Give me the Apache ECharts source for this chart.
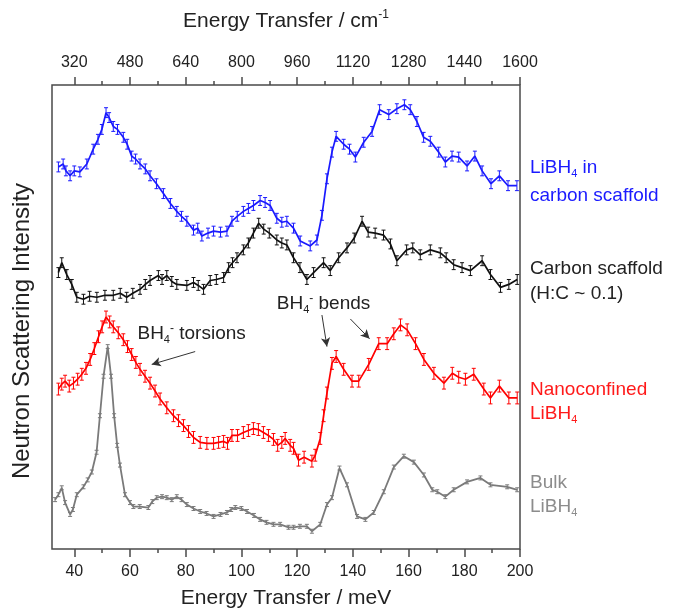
<!DOCTYPE html>
<html>
<head>
<meta charset="utf-8">
<script src="https://cdn.jsdelivr.net/npm/echarts@6/dist/echarts.min.js"></script>
<style>
html,body{margin:0;padding:0;background:#fff}
#main{width:673px;height:614px}
</style>
</head>
<body>
<div id="main"></div>
<script>
// axis ticks: bottom in meV, top in cm-1 (drawn as 8 cm-1 per meV)
var meVTicks = [40, 60, 80, 100, 120, 140, 160, 180, 200];
var meVMinor = [50, 70, 90, 110, 130, 150, 170, 190];
var cmTicks = [320, 480, 640, 800, 960, 1120, 1280, 1440, 1600];
var cmMinor = [400, 560, 720, 880, 1040, 1200, 1360, 1520];

// LiBH4 in carbon scaffold (blue)
var blueE = [34.3, 36, 37, 38.5, 40, 42, 44.5, 46.8, 48.5, 49.9, 51.4, 52.5, 54, 55.5, 57.6, 59, 60.6, 62, 63.6, 65.5, 67.2, 69.5, 72, 74.5, 76.8, 78.5, 80.4, 82.8, 84.3, 85.8, 88, 90, 92.5, 94.8, 96.6, 98.5, 100.7, 102.5, 104.3, 106.7, 108.5, 110.3, 112.7, 114.5, 116.3, 118.7, 121.1, 124.7, 127.1, 128.9, 130.7, 132.5, 134, 136.7, 138.8, 140.9, 143.9, 146.9, 149.6, 152.9, 155.8, 158.5, 160.6, 163, 165.4, 167.8, 170.8, 173.2, 175.6, 178, 181, 183.8, 186.4, 189.6, 192.6, 195.7, 198.9];
var blueI = [387, 390, 383, 378, 383, 382, 390, 405, 415, 425, 442, 437, 428, 425, 417, 410, 398, 395, 390, 385, 378, 370, 360, 350, 342, 337, 332, 323, 325, 317, 320, 322, 321, 322, 332, 337, 342, 345, 348, 353, 351, 348, 335, 331, 332, 325, 312, 307, 313, 338, 375, 402, 418, 410, 405, 397, 412, 423, 445, 440, 446, 450, 445, 433, 417, 413, 402, 392, 398, 397, 388, 398, 383, 370, 378, 368, 368];

// Carbon scaffold (black)
var blackE = [34.3, 35.5, 37.3, 39.1, 40.9, 43.3, 45.5, 48.1, 51, 54, 56.5, 58.8, 61, 63.6, 65.5, 67.2, 70.2, 71.5, 73.2, 75, 76.8, 80.4, 82.8, 84.5, 86.4, 88.8, 91, 93.6, 95.4, 96.8, 98.4, 100.7, 102.5, 104.3, 106.2, 108, 110, 112.7, 114.5, 116.3, 118.7, 121, 123.5, 125.9, 129.5, 131.9, 134.9, 137.9, 140.5, 143.3, 145.5, 148, 151, 153.5, 155.8, 159.3, 161.5, 164.2, 167.8, 171.4, 173.5, 176.2, 179.2, 182.2, 186.4, 189.4, 193, 196, 199];
var blackI = [280, 290, 278, 268, 255, 253, 256, 255, 257, 257, 259, 255, 259, 263, 268, 272, 277, 273, 277, 271, 268, 267, 270, 267, 263, 272, 273, 275, 285, 290, 295, 303, 310, 320, 330, 324, 320, 313, 310, 308, 295, 285, 273, 280, 290, 282, 295, 305, 315, 332, 321, 320, 318, 309, 292, 303, 305, 298, 303, 300, 295, 288, 285, 282, 292, 278, 265, 268, 273];

// Nanoconfined LiBH4 (red)
var redE = [34.3, 35.5, 36.7, 38.2, 39.7, 41.2, 42.7, 44.2, 45.7, 47.2, 48.7, 50, 51.4, 52.7, 54, 55.8, 57.6, 59.1, 60.6, 62.1, 63.6, 65.4, 67.2, 69, 70.8, 73.2, 75.6, 77.4, 79.2, 81, 82.8, 85.2, 87.6, 90, 91.8, 93.6, 95, 96.6, 98.6, 100.7, 102.5, 104.3, 106.1, 107.9, 109.7, 111.5, 113, 114.5, 115.7, 117.5, 118.7, 120.5, 122.5, 125.3, 126.5, 128.3, 129.5, 130.7, 132.5, 134, 136.7, 139.7, 142.1, 145.7, 149.3, 152.3, 154.7, 157.1, 159.5, 162.5, 165.5, 169.1, 172.7, 175.7, 178, 180.4, 183.4, 187, 189.4, 192.6, 196, 199];
var redI = [162, 167, 170, 165, 168, 172, 177, 183, 192, 203, 215, 225, 235, 230, 225, 219, 212, 205, 197, 189, 182, 175, 168, 160, 152, 143, 135, 130, 125, 119, 113, 108, 107, 107, 108, 109, 107, 115, 115, 118, 120, 122, 121, 118, 115, 111, 105, 108, 112, 105, 102, 90, 93, 89, 95, 112, 135, 158, 188, 195, 182, 170, 170, 187, 208, 208, 218, 227, 222, 208, 192, 178, 168, 178, 174, 172, 177, 162, 153, 165, 153, 153];

// Bulk LiBH4 (grey)
var grayE = [33.1, 34.3, 35.5, 36.7, 38.5, 39.5, 40.9, 43.3, 44.8, 46.3, 48, 49.2, 50.5, 52, 53.2, 54.3, 55.4, 56.4, 58.2, 60, 61.2, 63.5, 66.6, 68, 69.6, 71.5, 73.2, 75, 76.8, 78.5, 80.4, 82.8, 85.2, 87.5, 90, 92.5, 94.8, 96.3, 97.8, 100, 102, 104.5, 106.7, 109, 111.5, 113.9, 116.9, 118.7, 121, 123.5, 125.3, 128.3, 130.7, 132.5, 135.2, 137.9, 141.5, 144.5, 147.5, 151.1, 154.7, 158.3, 161.9, 165.5, 168.5, 170.3, 173.2, 176.2, 181, 185.8, 189.4, 195.4, 199];
var grayI = [50, 55, 62, 47, 35, 40, 55, 63, 70, 78, 98, 135, 175, 205, 175, 135, 105, 85, 55, 47, 43, 43, 42, 48, 52, 53, 52, 50, 53, 50, 45, 41, 38, 36, 33, 35, 37, 40, 42, 41, 38, 34, 30, 27, 25, 25, 22, 22, 23, 23, 18, 25, 45, 52, 82, 65, 33, 30, 37, 58, 83, 94, 88, 75, 60, 58, 53, 60, 68, 72, 65, 63, 60];

// half size of the error bars for each curve
var errBlue = 5, errBlack = 5, errRed = 6, errGray = 2;

// annotations (meV, intensity)
var notes = [
    {text: 'BH{sub|4}{sup|-} torsions', at: [62.5, 218]},
    {text: 'BH{sub|4}{sup|-} bends', at: [112.5, 248]}
];
var arrows = [
    [[83.4, 200], [67.8, 187]],
    [[128.9, 237], [130.7, 205]],
    [[139.1, 233], [146, 213]]
];

var FONT = '"Liberation Sans", Arial, sans-serif';
var TXT = '#222';
var FRAME = '#4a4a4a';

function toPairs(e, v, err) {
    var out = [];
    for (var i = 0; i < e.length; i++) {
        out.push([e[i], v[i], err]);
    }
    return out;
}

function errBar(params, api) {
    var x = api.value(0), y = api.value(1), d = api.value(2);
    var top = api.coord([x, y + d]);
    var bot = api.coord([x, y - d]);
    var cw = 2;
    var st = {stroke: api.visual('color'), lineWidth: 1};
    return {
        type: 'group',
        children: [
            {type: 'line', shape: {x1: top[0], y1: top[1], x2: bot[0], y2: bot[1]}, style: st},
            {type: 'line', shape: {x1: top[0] - cw, y1: top[1], x2: top[0] + cw, y2: top[1]}, style: st},
            {type: 'line', shape: {x1: bot[0] - cw, y1: bot[1], x2: bot[0] + cw, y2: bot[1]}, style: st}
        ]
    };
}

var richText = {
    sub: {fontSize: 11, fontFamily: FONT, color: TXT, padding: [12, 0, 0, 0]},
    sup: {fontSize: 12, fontFamily: FONT, color: TXT, padding: [0, 0, 10, 0]}
};

function lineSeries(name, e, v, color, width) {
    return {
        name: name,
        type: 'line',
        data: toPairs(e, v, 0),
        symbol: 'none',
        lineStyle: {color: color, width: width},
        z: 3,
        animation: false
    };
}

function barSeries(name, e, v, err, color) {
    return {
        name: name + ' err',
        type: 'custom',
        renderItem: errBar,
        data: toPairs(e, v, err),
        itemStyle: {color: color},
        encode: {x: 0, y: 1},
        z: 2,
        animation: false
    };
}

function plain(v) {
    return String(v);
}

var myChart = echarts.init(document.getElementById('main'));

var notePoints = [];
for (var i = 0; i < notes.length; i++) {
    notePoints.push({
        coord: notes[i].at,
        label: {formatter: notes[i].text}
    });
}
var arrowLines = [];
for (var i = 0; i < arrows.length; i++) {
    arrowLines.push([{coord: arrows[i][0]}, {coord: arrows[i][1]}]);
}

var redLine = lineSeries('Nanoconfined', redE, redI, '#ff0000', 1.7);
redLine.markLine = {
    silent: true,
    symbol: ['none', 'arrow'],
    symbolSize: [7, 9],
    label: {show: false},
    lineStyle: {color: '#333', width: 1, type: 'solid'},
    data: arrowLines,
    animation: false
};
redLine.markPoint = {
    silent: true,
    symbol: 'circle',
    symbolSize: 1,
    itemStyle: {color: 'rgba(0,0,0,0)'},
    label: {
        show: true,
        position: 'right',
        distance: 0,
        fontSize: 19,
        fontFamily: FONT,
        color: TXT,
        rich: richText
    },
    data: notePoints,
    animation: false
};

var option = {
    animation: false,
    backgroundColor: '#fff',
    grid: {
        left: 52, right: 153, top: 85, bottom: 59,
        show: true, borderColor: FRAME, borderWidth: 1.5
    },
    xAxis: [
        {
            type: 'value', position: 'bottom', min: 32, max: 200,
            axisLine: {show: false},
            splitLine: {show: false},
            axisTick: {show: true, length: 8, customValues: meVTicks, lineStyle: {color: FRAME, width: 1.5}},
            axisLabel: {customValues: meVTicks, formatter: plain, fontSize: 16, fontFamily: FONT, color: TXT, margin: 15},
            name: 'Energy Transfer / meV',
            nameLocation: 'middle',
            nameGap: 39,
            nameTextStyle: {fontSize: 21, fontFamily: FONT, color: TXT}
        },
        {
            type: 'value', position: 'top', min: 256, max: 1600,
            axisLine: {show: false},
            splitLine: {show: false},
            axisTick: {show: true, length: 8, customValues: cmTicks, lineStyle: {color: FRAME, width: 1.5}},
            axisLabel: {customValues: cmTicks, formatter: plain, fontSize: 16, fontFamily: FONT, color: TXT, margin: 14},
            name: 'Energy Transfer / cm{sup|-1}',
            nameLocation: 'middle',
            nameGap: 52,
            nameTextStyle: {
                fontSize: 21, fontFamily: FONT, color: TXT,
                rich: {sup: {fontSize: 12, fontFamily: FONT, color: TXT, padding: [0, 0, 12, 0]}}
            }
        },
        {
            type: 'value', position: 'bottom', min: 32, max: 200,
            axisLine: {show: false},
            splitLine: {show: false},
            axisTick: {show: true, length: 4, customValues: meVMinor, lineStyle: {color: FRAME, width: 1.5}},
            axisLabel: {show: false}
        },
        {
            type: 'value', position: 'top', min: 256, max: 1600,
            axisLine: {show: false},
            splitLine: {show: false},
            axisTick: {show: true, length: 4, customValues: cmMinor, lineStyle: {color: FRAME, width: 1.5}},
            axisLabel: {show: false}
        }
    ],
    yAxis: {
        type: 'value', min: 0, max: 470,
        axisLine: {show: false},
        axisTick: {show: false},
        axisLabel: {show: false},
        splitLine: {show: false}
    },
    series: [
        barSeries('LiBH4 in carbon scaffold', blueE, blueI, errBlue, '#1a1aff'),
        lineSeries('LiBH4 in carbon scaffold', blueE, blueI, '#1a1aff', 1.7),
        barSeries('Carbon scaffold', blackE, blackI, errBlack, '#111'),
        lineSeries('Carbon scaffold', blackE, blackI, '#111', 1.7),
        barSeries('Nanoconfined', redE, redI, errRed, '#ff0000'),
        redLine,
        barSeries('Bulk', grayE, grayI, errGray, '#7a7a7a'),
        lineSeries('Bulk', grayE, grayI, '#7a7a7a', 1.8)
    ],
    graphic: [
        {type: 'text', x: 22, y: 331, rotation: Math.PI / 2,
            style: {text: 'Neutron Scattering Intensity', fill: TXT, font: '24px ' + FONT, align: 'center', verticalAlign: 'middle'}},
        {type: 'text', left: 530, top: 154, style: {text: 'LiBH{s|4} in\ncarbon scaffold', fill: '#1a1aff', font: '19px ' + FONT, lineHeight: 28,
            rich: {s: {fontSize: 11, fill: '#1a1aff', padding: [12, 0, 0, 0]}}}},
        {type: 'text', left: 530, top: 256, style: {text: 'Carbon scaffold\n(H:C ~ 0.1)', fill: '#222', font: '19px ' + FONT, lineHeight: 25}},
        {type: 'text', left: 530, top: 378, style: {text: 'Nanoconfined\nLiBH{s|4}', fill: '#ff1a1a', font: '19px ' + FONT, lineHeight: 24,
            rich: {s: {fontSize: 11, fill: '#ff1a1a', padding: [12, 0, 0, 0]}}}},
        {type: 'text', left: 530, top: 471, style: {text: 'Bulk\nLiBH{s|4}', fill: '#8c8c8c', font: '19px ' + FONT, lineHeight: 24,
            rich: {s: {fontSize: 11, fill: '#8c8c8c', padding: [12, 0, 0, 0]}}}}
    ]
};
myChart.setOption(option);
</script>
</body>
</html>
